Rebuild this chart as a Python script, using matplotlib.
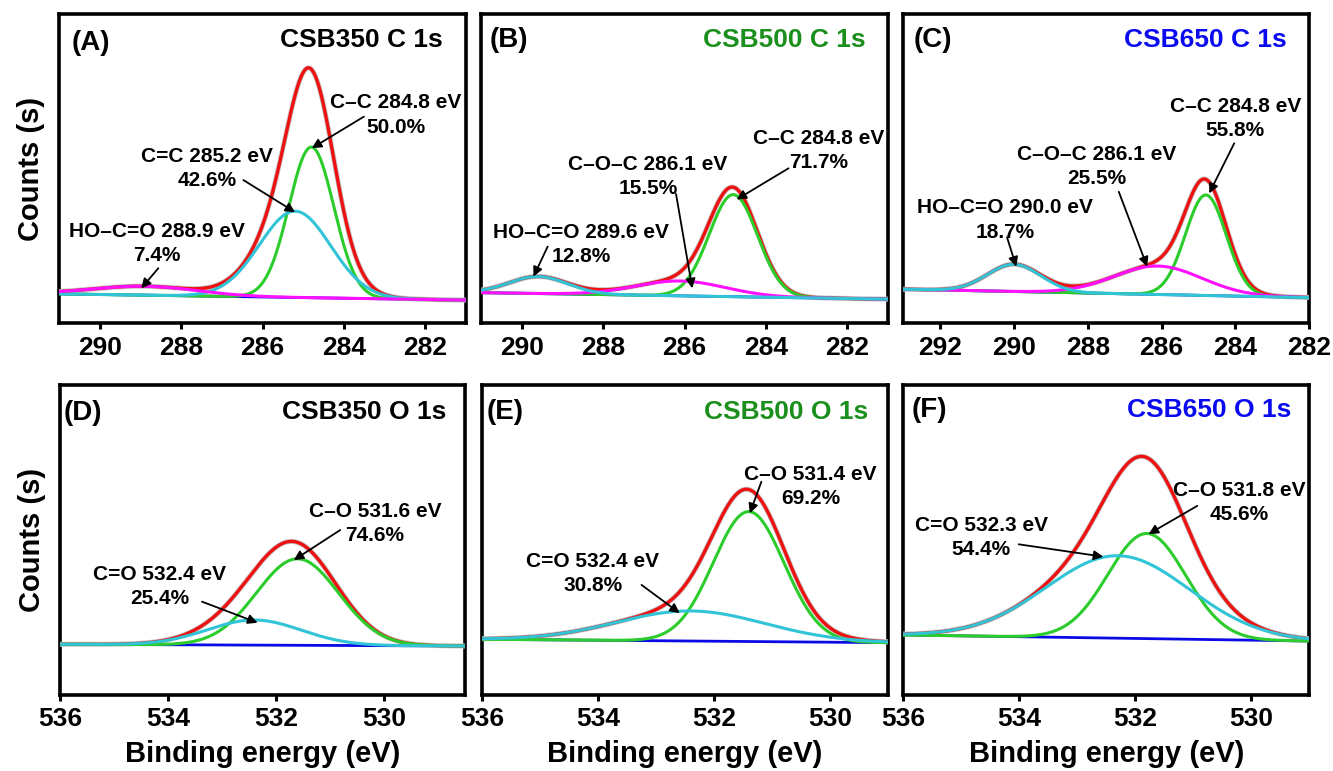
import matplotlib
matplotlib.use('Agg')
import numpy as np
from matplotlib import pyplot as plt

plt.rcParams['font.family'] = ['Liberation Sans', 'DejaVu Sans']
plt.rcParams['font.weight'] = 'bold'

GREEN = '#2bcc2b'
CYAN = '#30c4d6'
MAGENTA = '#ff10ff'
BLUE = '#0a0ae6'
RED = '#ee1111'

# ---- panel settings ----
tags = ['(A)', '(B)', '(C)', '(D)', '(E)', '(F)']
titles = ['CSB350 C 1s', 'CSB500 C 1s', 'CSB650 C 1s',
          'CSB350 O 1s', 'CSB500 O 1s', 'CSB650 O 1s']
title_colors = ['black', '#1b8f1b', '#0a0af0', 'black', '#1b8f1b', '#0a0af0']
xlims = [(291, 281), (291, 281), (293, 282), (536, 528.5), (536, 529), (536, 529)]
xticks = [[290, 288, 286, 284, 282], [290, 288, 286, 284, 282],
          [292, 290, 288, 286, 284, 282],
          [536, 534, 532, 530], [536, 534, 532, 530], [536, 534, 532, 530]]

# ---- fitted peaks (name, binding energy, share, height, FWHM) ----
names_A = ['C–C', 'C=C', 'HO–C=O']
energy_A = [284.8, 285.2, 288.9]
pct_A = [50.0, 42.6, 7.4]
height_A = [48.7, 27.9, 2.9]
fwhm_A = [1.3, 2.06, 3.0]
base_A = [9.5, 7.5]

names_B = ['C–C', 'C–O–C', 'HO–C=O']
energy_B = [284.8, 286.1, 289.6]
pct_B = [71.7, 15.5, 12.8]
height_B = [33.0, 4.8, 5.5]
fwhm_B = [1.4, 2.6, 1.7]
base_B = [9.9, 7.8]

names_C = ['C–C', 'C–O–C', 'HO–C=O']
energy_C = [284.8, 286.1, 290.0]
pct_C = [55.8, 25.5, 18.7]
height_C = [32.5, 9.2, 8.8]
fwhm_C = [1.3, 2.8, 1.7]
base_C = [11.0, 8.3]

names_D = ['C–O', 'C=O']
energy_D = [531.6, 532.4]
pct_D = [74.6, 25.4]
height_D = [27.9, 8.1]
fwhm_D = [1.79, 2.04]
base_D = [16.35, 15.8]

names_E = ['C–O', 'C=O']
energy_E = [531.4, 532.4]
pct_E = [69.2, 30.8]
height_E = [41.9, 9.7]
fwhm_E = [1.44, 3.0]
base_E = [17.97, 16.87]

names_F = ['C–O', 'C=O']
energy_F = [531.8, 532.3]
pct_F = [45.6, 54.4]
height_F = [33.9, 26.6]
fwhm_F = [1.58, 2.9]
base_F = [19.35, 17.4]

peaks = [
    (names_A, energy_A, pct_A, height_A, fwhm_A, base_A, [GREEN, CYAN, MAGENTA]),
    (names_B, energy_B, pct_B, height_B, fwhm_B, base_B, [GREEN, MAGENTA, CYAN]),
    (names_C, energy_C, pct_C, height_C, fwhm_C, base_C, [GREEN, MAGENTA, CYAN]),
    (names_D, energy_D, pct_D, height_D, fwhm_D, base_D, [GREEN, CYAN]),
    (names_E, energy_E, pct_E, height_E, fwhm_E, base_E, [GREEN, CYAN]),
    (names_F, energy_F, pct_F, height_F, fwhm_F, base_F, [GREEN, CYAN]),
]
# draw order of components (top-most last)
draw_order = [[0, 1, 2], [0, 2, 1], [0, 2, 1], [0, 1], [0, 1], [0, 1]]

# label layout per peak: (text x, text y, arrow tail x, tail y, tip x, tip y)
layout = [
    [(282.73, 67.3, 283.51, 66.8, 284.79, 56.6),
     (287.37, 50.0, 286.47, 46.3, 285.20, 35.9),
     (288.59, 25.7, 288.56, 17.8, 288.98, 11.3)],
    [(282.71, 55.9, 283.44, 50.1, 284.72, 40.0),
     (286.90, 47.4, 286.21, 41.8, 285.81, 11.3),
     (288.54, 25.4, 289.37, 24.8, 289.72, 15.1)],
    [(284.00, 66.1, 284.03, 58.2, 284.71, 42.0),
     (287.75, 50.6, 287.16, 42.5, 286.39, 18.3),
     (290.24, 33.4, 290.19, 27.8, 289.94, 18.3)],
    [(530.17, 55.4, 530.81, 53.2, 531.67, 43.5),
     (534.16, 34.9, 533.37, 30.1, 532.34, 23.3)],
    [(530.33, 67.3, 531.18, 68.8, 531.38, 58.6),
     (534.09, 39.3, 533.25, 35.5, 532.59, 26.4)],
    [(530.21, 62.2, 530.93, 61.0, 531.77, 51.9),
     (534.66, 50.7, 534.01, 48.6, 532.55, 44.6)],
]

tag_pos = [(0.032, 0.905), (0.021, 0.916), (0.025, 0.916),
           (0.008, 0.909), (0.011, 0.914), (0.021, 0.919)]
title_pos = [(0.943, 0.916), (0.945, 0.916), (0.946, 0.916),
             (0.955, 0.914), (0.952, 0.914), (0.957, 0.919)]
axes_rects = [
    (0.0443, 0.5807, 0.3053, 0.4012),
    (0.3612, 0.5807, 0.3047, 0.4012),
    (0.6777, 0.5807, 0.3044, 0.4012),
    (0.0450, 0.0986, 0.3038, 0.4021),
    (0.3618, 0.0986, 0.3041, 0.4021),
    (0.6777, 0.0986, 0.3044, 0.4021),
]


def gauss(x, c, h, w):
    return h * np.exp(-4 * np.log(2) * (x - c) ** 2 / w ** 2)


fig = plt.figure(figsize=(13.33, 7.71), dpi=100)

for i in range(6):
    ax = fig.add_axes(axes_rects[i])
    names, energy, pct, height, fwhm, base, colors = peaks[i]
    x = np.linspace(xlims[i][0], xlims[i][1], 600)
    bg = np.linspace(base[0], base[1], x.size)
    comps = [gauss(x, energy[k], height[k], fwhm[k]) for k in range(len(energy))]
    env = bg + np.sum(comps, axis=0)

    ax.plot(x, bg, color=BLUE, lw=2.0, zorder=2)
    ax.plot(x, env, color='#c4c4c4', lw=3.6, zorder=3)
    ax.plot(x, env, color=RED, lw=2.4, zorder=4)
    for k in draw_order[i]:
        ax.plot(x, bg + comps[k], color=colors[k], lw=2.2, zorder=5 + k)

    for k in range(len(energy)):
        tx, ty, ax0, ay0, ax1, ay1 = layout[i][k]
        ax.text(tx, ty, f'{names[k]} {energy[k]:.1f} eV\n{pct[k]:.1f}%',
                ha='center', va='center', multialignment='center',
                fontsize=15, fontweight='bold', linespacing=1.35, zorder=10)
        ax.annotate('', xy=(ax1, ay1), xytext=(ax0, ay0),
                    arrowprops=dict(arrowstyle='-|>', color='black', lw=1.3,
                                    mutation_scale=14, shrinkA=0, shrinkB=0),
                    zorder=10)

    ax.text(tag_pos[i][0], tag_pos[i][1], tags[i], transform=ax.transAxes,
            ha='left', va='center', fontsize=20, fontweight='bold')
    ax.text(title_pos[i][0], title_pos[i][1], titles[i], transform=ax.transAxes,
            ha='right', va='center', fontsize=19, fontweight='bold',
            color=title_colors[i])

    ax.set_xlim(xlims[i])
    ax.set_ylim(0, 100)
    ax.set_xticks(xticks[i])
    ax.set_yticks([])
    ax.tick_params(axis='x', direction='out', length=4, width=2.2,
                   labelsize=19, pad=5)
    for lab in ax.get_xticklabels():
        lab.set_fontweight('bold')
    for sp in ax.spines.values():
        sp.set_linewidth(2.6)

    if i in (0, 3):
        ax.set_ylabel('Counts (s)', fontsize=21, fontweight='bold', labelpad=10)
    if i >= 3:
        ax.set_xlabel('Binding energy (eV)', fontsize=21, fontweight='bold',
                      labelpad=6)

fig.savefig('out.png', dpi=100)
